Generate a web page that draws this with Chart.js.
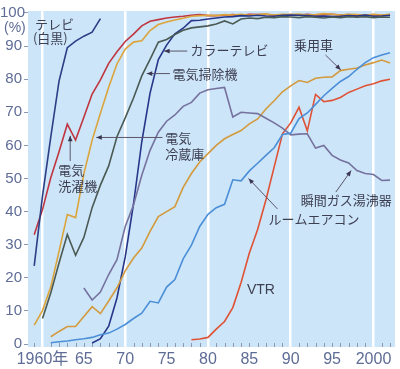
<!DOCTYPE html>
<html lang="ja">
<head>
<meta charset="UTF-8">
<title>耐久消費財の普及率</title>
<script src="https://cdn.jsdelivr.net/npm/chart.js"></script>
<style>
    body { margin: 0; background: #fff; }
    canvas { display: block; }
</style>
</head>
<body>
<canvas id="chart" width="400" height="369"></canvas>
<script>
    // 普及率 (%)、各系列は開始年から1年ごと
    const xTicks = [1960, 1965, 1970, 1975, 1980, 1985, 1990, 1995, 2000];
    const xTickLabels = ['1960年', '65', '70', '75', '80', '85', '90', '95', '2000'];
    const yTicks = [0, 10, 20, 30, 40, 50, 60, 70, 80, 90, 100];

    const bwTvFrom = 1959;
    const bwTv = [23.6, 44.7, 62.5, 79.4, 89.5, 91.5, 93.0, 94.2, 98.3];

    const washerFrom = 1959;
    const washer = [33.0, 40.6, 50.2, 58.1, 66.4, 61.6, 68.5, 75.5, 79.8, 84.8, 88.3, 91.4, 93.6, 96.1, 97.5, 98.0, 98.5, 98.8, 99.0, 99.3, 99.5,
        99.2, 99.2, 99.3, 99.5, 99.3, 99.6, 99.5, 99.6, 99.3, 99.4, 99.5, 99.3, 99.6, 99.4, 99.5, 99.6, 99.4, 99.5, 99.1, 99.3, 99.5, 99.2, 99.5];

    const fridgeFrom = 1959;
    const fridge = [5.7, 10.1, 17.2, 28.0, 39.1, 38.2, 51.4, 61.6, 69.7, 77.6, 84.6, 89.1, 91.2, 91.6, 94.7, 96.5, 97.3, 97.9, 98.4, 99.0, 99.2,
        99.3, 99.2, 99.5, 99.4, 99.6, 99.3, 99.5, 99.7, 99.4, 99.6, 99.5, 99.7, 99.4, 99.5, 99.8, 99.6, 99.4, 99.6, 99.5, 99.3, 99.6, 99.4, 99.6];

    const vacuumFrom = 1960;
    const vacuum = [7.7, 15.4, 24.5, 33.1, 26.8, 32.2, 41.2, 48.0, 53.8, 62.6, 68.3, 74.3, 81.0, 86.0, 91.2, 92.0, 93.5, 94.8, 95.5, 95.8,
        96.1, 96.7, 97.6, 96.7, 98.2, 98.5, 98.3, 98.7, 98.6, 98.9, 98.8, 98.6, 98.9, 98.7, 98.5, 98.8, 98.6, 98.9, 98.7, 98.9, 98.6, 98.8, 98.7];

    const colorTvFrom = 1966;
    const colorTv = [0.3, 1.6, 5.4, 13.9, 26.3, 42.3, 61.1, 75.8, 85.9, 90.3, 93.7, 95.4, 97.7, 97.8,
        98.2, 98.5, 98.8, 98.9, 99.2, 99.1, 99.3, 99.1, 99.0, 99.3, 99.4, 99.3, 99.2, 99.0, 99.1, 98.9, 99.0, 99.2, 99.1, 99.4, 99.0, 99.1, 99.3];

    const airconFrom = 1961;
    const aircon = [0.4, 0.7, 0.9, 1.3, 1.6, 2.0, 2.8, 3.3, 4.5, 5.9, 7.7, 9.3, 12.9, 12.4, 17.2, 19.5, 25.7, 29.9, 35.5,
        39.2, 41.2, 42.2, 49.6, 49.3, 52.3, 54.6, 57.0, 59.3, 63.3, 63.7, 68.1, 69.8, 72.4, 75.0, 77.2, 79.3, 80.8, 83.0, 85.0, 86.5, 87.3, 88.0];

    const gasHeaterFrom = 1965;
    const gasHeater = [16.9, 13.3, 15.7, 21.0, 25.5, 35.5, 42.0, 51.0, 58.5, 64.0, 67.3, 69.2, 71.8, 73.0, 75.8,
        76.8, 77.2, 77.5, 68.6, 70.0, 69.8, 69.6, 68.2, 66.8, 65.2, 63.2, 63.4, 63.5, 59.2, 60.0, 57.0, 55.6, 54.7, 52.4, 51.5, 51.2, 49.4, 49.5];

    const carFrom = 1961;
    const car = [2.2, 3.8, 5.3, 5.3, 8.3, 11.3, 9.2, 13.0, 17.0, 22.1, 26.0, 29.0, 34.0, 38.5, 40.0, 41.5, 47.3, 51.5, 55.0,
        57.5, 60.0, 62.0, 63.3, 64.5, 66.5, 68.0, 71.0, 73.5, 76.2, 78.0, 79.6, 79.0, 80.3, 80.6, 80.7, 82.6, 83.0, 83.4, 84.3, 85.0, 85.8, 84.9];

    const vtrFrom = 1978;
    const vtr = [1.3, 1.5, 2.0, 4.5, 6.8, 11.0, 18.6, 27.5, 34.6, 43.5, 53.5, 63.5, 66.8, 71.5, 64.4, 75.4, 73.2, 73.6, 74.5, 76.0, 77.0, 78.0, 78.6, 79.5, 80.0];

    function points(from, values) {
        return values.map((v, i) => ({ x: from + i, y: v }));
    }

    function line(data, color) {
        return {
            data: data,
            borderColor: color,
            borderWidth: 1.6,
            pointRadius: 0,
            tension: 0,
            fill: false
        };
    }

    const labelColor = '#5e6c96';
    const textColor = '#3d3f52';
    const arrowColor = '#5c5468';
    const jpFont = '13px "Noto Sans CJK JP", sans-serif';

    // 図中の注記 (データ座標)
    const notes = [
        { text: 'テレビ', x: 1959.1, y: 96.7 },
        { text: '(白黒)', x: 1958.85, y: 92.3 },
        { text: '電気', x: 1961.9, y: 52.4 },
        { text: '洗濯機', x: 1961.9, y: 47.6 },
        { text: '電気', x: 1974.85, y: 62.1 },
        { text: '冷蔵庫', x: 1974.85, y: 57.4 },
        { text: 'カラーテレビ', x: 1977.9, y: 88.8 },
        { text: '電気掃除機', x: 1975.7, y: 81.4 },
        { text: '乗用車', x: 1990.4, y: 90.4 },
        { text: '瞬間ガス湯沸器', x: 1991.2, y: 43.5 },
        { text: 'ルームエアコン', x: 1987.3, y: 37.6 },
        { text: 'VTR', x: 1984.7, y: 16.3, font: '14px "Liberation Sans", sans-serif' }
    ];
    const arrows = [
        [1963.35, 55.3, 1963.35, 62.9],
        [1974.5, 62.4, 1966.5, 62.4],
        [1977.5, 88.5, 1974.7, 88.5],
        [1975.4, 81.7, 1972.6, 81.7],
        [1994.2, 87.3, 1996.05, 82.8],
        [1995.45, 45.9, 1997.3, 52.4],
        [1988.4, 40.8, 1984.9, 50.0]
    ];

    const paperPlugin = {
        id: 'paper',
        beforeDraw(chart) {
            const { ctx, chartArea: a } = chart;
            ctx.save();
            ctx.fillStyle = '#cde5f8';
            ctx.fillRect(a.left, a.top, a.right - a.left, a.bottom - a.top);
            ctx.restore();
        },
        beforeDatasetsDraw(chart) {
            // 年ごとの小目盛り
            const { ctx, chartArea: a, scales } = chart;
            ctx.save();
            ctx.strokeStyle = '#8d97b2';
            ctx.lineWidth = 1;
            for (let yr = 1959; yr <= 2002; yr++) {
                if (yr % 10 === 0) continue;
                const px = Math.round(scales.x.getPixelForValue(yr)) + 0.5;
                ctx.beginPath();
                ctx.moveTo(px, a.bottom - 4);
                ctx.lineTo(px, a.bottom);
                ctx.stroke();
            }
            ctx.restore();
        },
        afterDatasetsDraw(chart) {
            const { ctx, scales } = chart;
            const sx = v => scales.x.getPixelForValue(v);
            const sy = v => scales.y.getPixelForValue(v);
            ctx.save();
            ctx.fillStyle = textColor;
            ctx.textBaseline = 'middle';
            ctx.textAlign = 'left';
            notes.forEach(n => {
                ctx.font = n.font || jpFont;
                ctx.fillText(n.text, sx(n.x), sy(n.y));
            });

            ctx.strokeStyle = arrowColor;
            ctx.fillStyle = '#3a3550';
            ctx.lineWidth = 1;
            arrows.forEach(([x1, y1, x2, y2]) => {
                const ax = sx(x1), ay = sy(y1), bx = sx(x2), by = sy(y2);
                const ang = Math.atan2(by - ay, bx - ax);
                ctx.beginPath();
                ctx.moveTo(ax, ay);
                ctx.lineTo(bx, by);
                ctx.stroke();
                ctx.beginPath();
                ctx.moveTo(bx, by);
                ctx.lineTo(bx - 6 * Math.cos(ang - 0.4), by - 6 * Math.sin(ang - 0.4));
                ctx.lineTo(bx - 6 * Math.cos(ang + 0.4), by - 6 * Math.sin(ang + 0.4));
                ctx.closePath();
                ctx.fill();
            });

            // 縦軸の最上段ラベルと単位
            ctx.fillStyle = labelColor;
            ctx.font = '15px "Liberation Sans", sans-serif';
            ctx.fillText('100', 0, sy(100));
            ctx.font = '14px "Liberation Sans", sans-serif';
            ctx.fillText('(%)', 4, sy(100) + 15);
            ctx.restore();
        }
    };

    new Chart(document.getElementById('chart'), {
        type: 'line',
        data: {
            datasets: [
                line(points(airconFrom, aircon), '#4b8fd8'),
                line(points(gasHeaterFrom, gasHeater), '#76729f'),
                line(points(carFrom, car), '#d39a3e'),
                line(points(vtrFrom, vtr), '#df5236'),
                line(points(bwTvFrom, bwTv), '#2b3f86'),
                line(points(vacuumFrom, vacuum), '#4a5a54'),
                line(points(colorTvFrom, colorTv), '#26368a'),
                line(points(fridgeFrom, fridge), '#dba43c'),
                line(points(washerFrom, washer), '#bf3540')
            ]
        },
        plugins: [paperPlugin],
        options: {
            responsive: false,
            animation: false,
            layout: { padding: { top: 5, right: 5, left: 0, bottom: 0 } },
            plugins: {
                legend: { display: false },
                tooltip: { enabled: false }
            },
            scales: {
                x: {
                    type: 'linear',
                    min: 1958.25,
                    max: 2002.6,
                    afterBuildTicks: scale => { scale.ticks = xTicks.map(v => ({ value: v })); },
                    afterFit: scale => { scale.height = 22; },
                    border: { display: false },
                    grid: {
                        drawTicks: false,
                        lineWidth: 2.5,
                        color: c => (c.tick && c.tick.value % 10 === 0) ? '#ffffff' : 'rgba(0,0,0,0)'
                    },
                    ticks: {
                        autoSkip: false,
                        maxRotation: 0,
                        padding: 3,
                        color: labelColor,
                        font: { family: '"Liberation Sans", "Noto Sans CJK JP", sans-serif', size: 16 },
                        callback: v => xTickLabels[xTicks.indexOf(v)]
                    }
                },
                y: {
                    min: -0.9,
                    max: 100.6,
                    afterBuildTicks: scale => { scale.ticks = yTicks.map(v => ({ value: v })); },
                    afterFit: scale => { scale.width = 28; },
                    border: { display: false },
                    grid: {
                        drawOnChartArea: false,
                        tickLength: 4,
                        color: '#8d97b2'
                    },
                    ticks: {
                        padding: 2,
                        color: labelColor,
                        font: { family: '"Liberation Sans", sans-serif', size: 15 },
                        callback: v => v === 100 ? '' : String(v)
                    }
                }
            }
        }
    });
</script>
</body>
</html>
